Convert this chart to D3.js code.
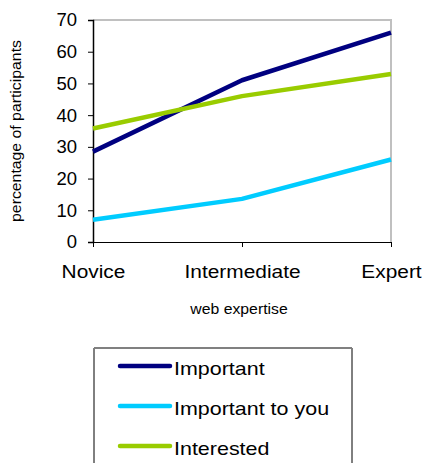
<!DOCTYPE html>
<html>
<head>
<meta charset="utf-8">
<script src="https://cdn.jsdelivr.net/npm/d3@7"></script>
<style>
  html, body { margin: 0; padding: 0; background: #fff; }
  svg { display: block; font-family: "Liberation Sans", Arial, sans-serif; }
</style>
</head>
<body>
<svg id="chart" width="425" height="463"></svg>
<script>
// Share of participants by web expertise level
const categories = ["Novice", "Intermediate", "Expert"];
const important = [28.5, 51, 66];
const importantToYou = [7, 13.6, 26];
const interested = [35.8, 46, 53];
const seriesNames = ["Important", "Important to you", "Interested"];
const yTicks = [0, 10, 20, 30, 40, 50, 60, 70];

const seriesColors = ["#000080", "#00ccff", "#99cc00"];
const seriesValues = [important, importantToYou, interested];

const FONT = "Liberation Sans, Arial, sans-serif";
const WIDE = 1.13; // horizontal widening of the label glyphs

const svg = d3.select("#chart");
const plot = { left: 93, right: 391, top: 20, bottom: 242 };

const x = d3.scalePoint().domain(categories).range([plot.left, plot.right]);
const y = d3.scaleLinear().domain([0, 70]).range([plot.bottom, plot.top]);

// plot-area frame (top and right edges)
svg.append("path")
  .attr("d", `M${plot.left},${plot.top}H${plot.right}V${plot.bottom}`)
  .attr("fill", "none")
  .attr("stroke", "#c0c0c0")
  .attr("stroke-width", 2);

// y axis
const yAxis = svg.append("g")
  .attr("transform", `translate(${plot.left},0)`)
  .call(d3.axisLeft(y).tickValues(yTicks).tickSize(5).tickPadding(11).tickFormat(d3.format("d")));
yAxis.select(".domain").attr("stroke", "#000").attr("stroke-width", 1.5);
yAxis.selectAll(".tick line").attr("stroke", "#000");
yAxis.selectAll(".tick text").attr("font-size", 18.5).attr("fill", "#000")
  .attr("font-family", FONT);

// x axis
const xAxis = svg.append("g")
  .attr("transform", `translate(0,${plot.bottom})`)
  .call(d3.axisBottom(x).tickSize(5).tickSizeOuter(0).tickPadding(18));
xAxis.select(".domain").attr("stroke", "#000").attr("stroke-width", 1.2);
xAxis.selectAll(".tick line").attr("stroke", "#000");
xAxis.selectAll(".tick text").attr("font-size", 18.5).attr("fill", "#000")
  .attr("font-family", FONT)
  .attr("transform", `scale(${WIDE},1)`);

// axis titles
svg.append("text")
  .attr("transform", `translate(21,${(plot.top + plot.bottom) / 2}) rotate(-90) scale(${WIDE},1)`)
  .attr("text-anchor", "middle")
  .attr("font-size", 14)
  .text("percentage of participants");

svg.append("text")
  .attr("transform", `translate(${(plot.left + plot.right) / 2 - 3},313.5) scale(${WIDE},1)`)
  .attr("text-anchor", "middle")
  .attr("font-size", 14)
  .text("web expertise");

// series lines
const line = d3.line()
  .x((d, i) => x(categories[i]))
  .y(d => y(d));

seriesValues.forEach((vals, i) => {
  svg.append("path")
    .datum(vals)
    .attr("d", line)
    .attr("fill", "none")
    .attr("stroke", seriesColors[i])
    .attr("stroke-width", 4.5)
    .attr("stroke-linejoin", "round");
});

// legend
const legend = svg.append("g");
const lg = { left: 94, top: 348, right: 352, bottom: 470 };
legend.append("path")
  .attr("d", `M${lg.left},${lg.bottom}V${lg.top}H${lg.right}V${lg.bottom}`)
  .attr("fill", "none")
  .attr("stroke", "#000")
  .attr("stroke-width", 1);
legend.append("line")
  .attr("x1", lg.left).attr("x2", lg.right)
  .attr("y1", lg.top).attr("y2", lg.top)
  .attr("stroke", "#808080").attr("stroke-width", 2);

seriesNames.forEach((name, i) => {
  const yy = 366 + i * 40;
  legend.append("line")
    .attr("x1", 120).attr("x2", 170)
    .attr("y1", yy).attr("y2", yy)
    .attr("stroke", seriesColors[i])
    .attr("stroke-width", 4.5)
    .attr("stroke-linecap", "round");
  legend.append("text")
    .attr("transform", `translate(174,${yy + 9}) scale(${WIDE},1)`)
    .attr("font-size", 19)
    .text(name);
});
</script>
</body>
</html>
